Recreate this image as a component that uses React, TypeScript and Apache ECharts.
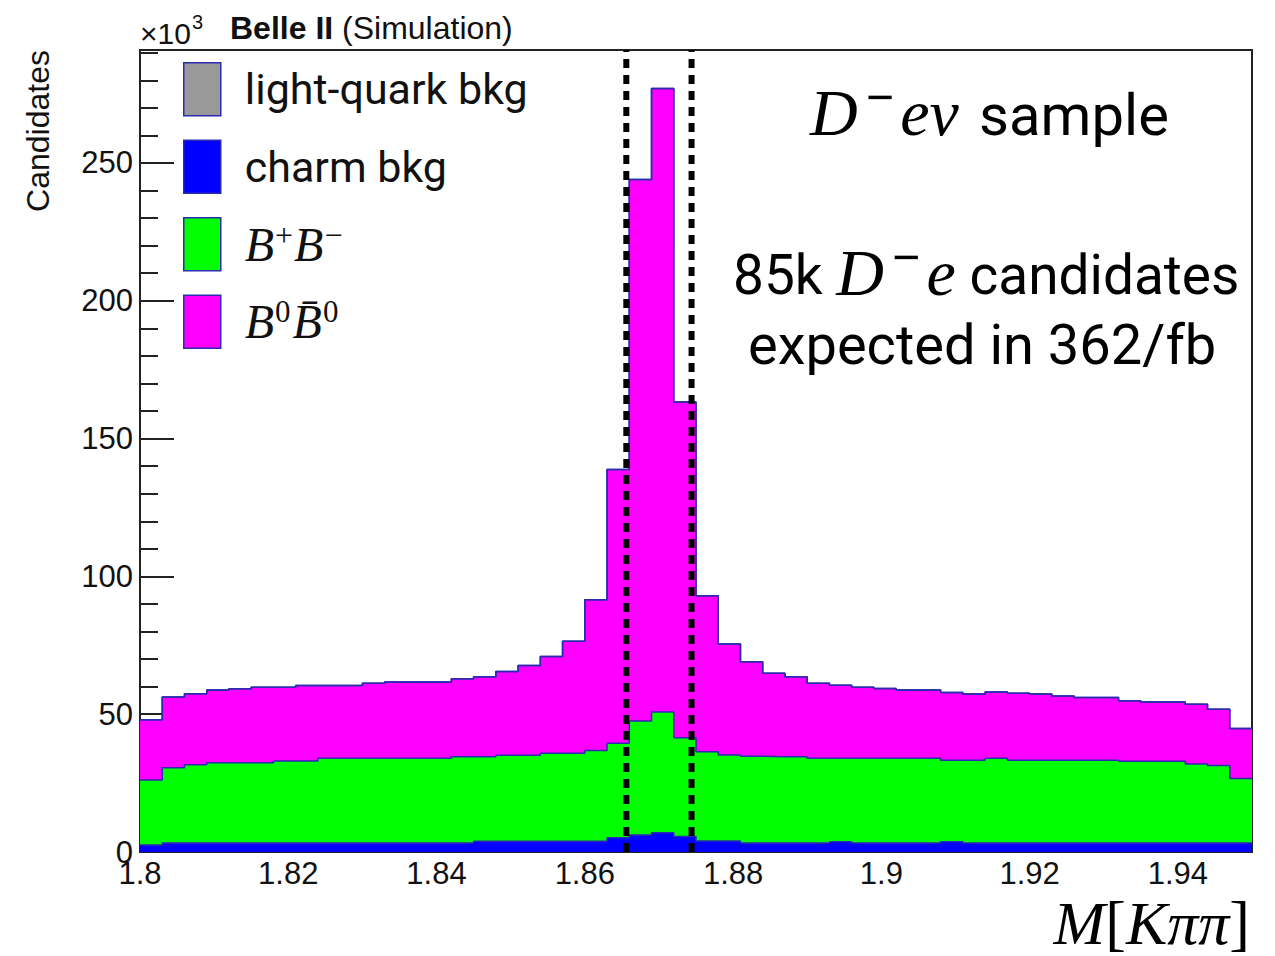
import React, { useEffect, useRef } from "react";
import * as echarts from "echarts";

// ---- binning (50 bins of 3 MeV from 1.80 to 1.95 GeV) ----
const BIN_START = 1.8;
const BIN_WIDTH = 0.003;
const X_MIN = 1.8;
const X_MAX = 1.95;
const Y_MAX = 291; // in units of 10^3 candidates

// ---- per-component bin contents (x10^3 candidates) ----
const charmBkg = [
  2.5, 3.3, 3.3, 3.3, 3.3, 3.3, 3.3, 3.3, 3.3, 3.3,
  3.3, 3.3, 3.3, 3.3, 3.3, 3.9, 3.9, 3.9, 3.9, 3.9,
  3.9, 5.2, 6.2, 7.0, 5.6, 4.0, 4.0, 3.3, 3.3, 3.3,
  3.3, 3.7, 3.3, 3.3, 3.3, 3.3, 3.7, 3.3, 3.3, 3.3,
  3.3, 3.3, 3.3, 3.3, 3.3, 3.3, 3.3, 3.3, 3.3, 3.3,
];
const bPlusBMinus = [
  23.6, 27.3, 28.4, 29.1, 29.1, 29.1, 29.7, 29.7, 30.7, 30.7,
  30.7, 30.7, 30.7, 30.7, 31.3, 30.7, 31.2, 31.2, 31.9, 31.9,
  32.9, 34.3, 41.3, 43.8, 35.9, 32.4, 31.2, 31.4, 31.3, 31.3,
  30.7, 30.3, 30.7, 30.7, 30.7, 30.7, 29.6, 30.0, 30.7, 30.0,
  30.0, 30.0, 30.0, 30.0, 29.6, 29.6, 29.6, 28.6, 28.1, 23.4,
];
const b0B0bar = [
  21.9, 25.6, 25.7, 26.4, 26.8, 27.4, 26.8, 27.4, 26.4, 26.4,
  27.2, 27.7, 27.7, 27.7, 28.3, 29.0, 30.4, 32.6, 35.1, 40.7,
  54.7, 99.3, 196.5, 226.2, 121.8, 56.6, 40.3, 34.3, 30.3, 29.0,
  27.2, 26.5, 25.8, 25.3, 24.8, 24.8, 24.6, 24.0, 24.1, 24.3,
  24.0, 23.3, 22.8, 22.8, 22.0, 21.5, 21.5, 21.7, 20.4, 18.1,
];
const lightQuarkBkg = [
  0, 0, 0, 0, 0, 0, 0, 0, 0, 0,
  0, 0, 0, 0, 0, 0, 0, 0, 0, 0,
  0, 0, 0, 0, 0, 0, 0, 0, 0, 0,
  0, 0, 0, 0, 0, 0, 0, 0, 0, 0,
  0, 0, 0, 0, 0, 0, 0, 0, 0, 0,
];

// signal window (dotted lines)
const cutEdges = [1.8656, 1.8744];

const LEGEND_NAMES = ["light-quark bkg", "charm bkg", "B⁺B⁻", "B⁰B̄⁰"];
const LEGEND_RICH: Record<string, string> = {
  "light-quark bkg": "{sf|light-quark bkg}",
  "charm bkg": "{sf|charm bkg}",
  "B⁺B⁻": "{it|B}{sup|+}{it|B}{sup|−}",
  "B⁰B̄⁰": "{it|B}{supd|0}{it|B̄}{supd|0}",
};
const COLORS = {
  light: "#999999",
  charm: "#0000ff",
  bpbm: "#00ff00",
  b0b0: "#ff00ff",
};
const OUTLINE = "#2b2bb0";

const edgeOf = (i: number) => Number((BIN_START + i * BIN_WIDTH).toFixed(4));
const toSteps = (vals: number[]) =>
  vals.map((v, i) => [edgeOf(i), v]).concat([[X_MAX, vals[vals.length - 1]]]);
const cumulative = (...layers: number[][]) =>
  layers[0].map((_, i) => Number(layers.reduce((s, l) => s + l[i], 0).toFixed(2)));

const histSeries = (name: string, vals: number[], color: string) => ({
  name,
  type: "line",
  step: "end",
  data: toSteps(vals),
  symbol: "none",
  showSymbol: false,
  silent: true,
  lineStyle: { color: OUTLINE, width: 1.5 },
  areaStyle: { color, opacity: 1 },
  z: 2,
});

export default function App() {
  const ref = useRef<HTMLDivElement>(null);
  useEffect(() => {
    if (!ref.current) return;
    const chart = echarts.init(ref.current, null, { renderer: "svg" });

    // THStack-like: draw cumulative histograms, largest first
    const cumCharm = cumulative(charmBkg);
    const cumBpBm = cumulative(charmBkg, bPlusBMinus);
    const cumB0 = cumulative(charmBkg, bPlusBMinus, b0B0bar);
    const cumAll = cumulative(charmBkg, bPlusBMinus, b0B0bar, lightQuarkBkg);

    const sansRoot = "'Liberation Sans', Arial, Helvetica, sans-serif";
    const serif = "'Liberation Serif', 'Times New Roman', serif";
    const pres = "Roboto, 'Noto Sans', sans-serif";

    // rich tokens are centred on the line; bottom padding lifts a token by half its size
    const itBig = { fontFamily: serif, fontStyle: "italic", fontSize: 66, lineHeight: 66, fill: "#000" };
    const supMinus = { fontFamily: serif, fontWeight: "bold", fontSize: 50, lineHeight: 19, padding: [0, 6, 30, 8], fill: "#000" };

    const option: any = {
      animation: false,
      backgroundColor: "#ffffff",
      grid: { left: 140, top: 50, right: 23, bottom: 104, show: true, borderColor: "#222", borderWidth: 2, backgroundColor: "transparent" },
      xAxis: [
        {
          type: "value", min: X_MIN, max: X_MAX, interval: 0.02, position: "bottom",
          axisLine: { show: true, onZero: false, lineStyle: { color: "#222", width: 2 } },
          axisTick: { show: true, inside: true, length: 25, lineStyle: { color: "#222", width: 2 } },
          axisLabel: { fontSize: 31, fontFamily: sansRoot, color: "#111", margin: 6, showMaxLabel: false },
          splitLine: { show: false },
        },
        {
          type: "value", min: X_MIN, max: X_MAX, interval: 0.005, position: "bottom",
          axisLine: { show: false, onZero: false },
          axisTick: { show: true, inside: true, length: 12, lineStyle: { color: "#222", width: 2 } },
          axisLabel: { show: false },
          splitLine: { show: false },
        },
      ],
      yAxis: [
        {
          type: "value", min: 0, max: Y_MAX, interval: 50, position: "left",
          axisLine: { show: true, onZero: false, lineStyle: { color: "#222", width: 2 } },
          axisTick: { show: true, inside: true, length: 34, lineStyle: { color: "#222", width: 2 } },
          axisLabel: { fontSize: 31, fontFamily: sansRoot, color: "#111", margin: 7, showMaxLabel: false },
          splitLine: { show: false },
        },
        {
          type: "value", min: 0, max: Y_MAX, interval: 10, position: "left", offset: 0,
          axisLine: { show: false, onZero: false },
          axisTick: { show: true, inside: true, length: 18, lineStyle: { color: "#222", width: 2 } },
          axisLabel: { show: false },
          splitLine: { show: false },
        },
      ],
      legend: {
        orient: "vertical",
        left: 183,
        top: 62,
        padding: 0,
        itemWidth: 37,
        itemHeight: 53,
        itemGap: 23,
        icon: "rect",
        selectedMode: false,
        data: [
          { name: LEGEND_NAMES[0], itemStyle: { color: COLORS.light, borderColor: OUTLINE, borderWidth: 1.5 } },
          { name: LEGEND_NAMES[1], itemStyle: { color: COLORS.charm, borderColor: OUTLINE, borderWidth: 1.5 } },
          { name: LEGEND_NAMES[2], itemStyle: { color: COLORS.bpbm, borderColor: OUTLINE, borderWidth: 1.5 } },
          { name: LEGEND_NAMES[3], itemStyle: { color: COLORS.b0b0, borderColor: OUTLINE, borderWidth: 1.5 } },
        ],
        formatter: (name: string) => LEGEND_RICH[name] || name,
        textStyle: {
          color: "#111",
          padding: [0, 0, 0, 19],
          rich: {
            sf: { fontFamily: pres, fontSize: 43, color: "#111" },
            it: { fontFamily: serif, fontStyle: "italic", fontSize: 48, lineHeight: 48, color: "#111" },
            sup: { fontFamily: serif, fontSize: 32, lineHeight: 28, padding: [0, 1, 18, 1], color: "#111" },
            supd: { fontFamily: serif, fontSize: 31, lineHeight: 26, padding: [0, 2, 20, 1], color: "#111" },
          },
        },
      },
      series: [
        histSeries(LEGEND_NAMES[0], cumAll, COLORS.light),
        histSeries(LEGEND_NAMES[3], cumB0, COLORS.b0b0),
        histSeries(LEGEND_NAMES[2], cumBpBm, COLORS.bpbm),
        histSeries(LEGEND_NAMES[1], cumCharm, COLORS.charm),
        ...cutEdges.map((c, i) => ({
          name: i === 0 ? "window low" : "window high",
          type: "line",
          data: [[c, 0], [c, Y_MAX]],
          symbol: "none",
          silent: true,
          lineStyle: { color: "#000", width: 6, type: [9, 7] },
          z: 5,
        })),
      ],
      graphic: [
        {
          type: "text", x: 140, y: 33,
          style: {
            text: "{n|×10}{s|3}",
            align: "left", verticalAlign: "middle",
            rich: {
              n: { fontFamily: sansRoot, fontSize: 30, lineHeight: 30, fill: "#111" },
              s: { fontFamily: sansRoot, fontSize: 20, lineHeight: 8, padding: [0, 0, 22, 1], fill: "#111" },
            },
          },
        },
        {
          type: "text", x: 230, y: 28,
          style: {
            text: "{b|Belle II} {n|(Simulation)}",
            align: "left", verticalAlign: "middle",
            rich: {
              b: { fontFamily: sansRoot, fontWeight: "bold", fontSize: 32, fill: "#111" },
              n: { fontFamily: sansRoot, fontSize: 32, fill: "#111" },
            },
            font: `32px ${sansRoot}`,
          },
        },
        {
          type: "text", x: 38, y: 50, rotation: Math.PI / 2,
          style: { text: "Candidates", font: `32px ${sansRoot}`, fill: "#111", align: "right", verticalAlign: "middle" },
        },
        {
          type: "text", x: 810, y: 112,
          style: {
            text: "{it|D}{sup|−}{it|eν}{sf| sample}",
            align: "left", verticalAlign: "middle",
            rich: {
              it: itBig,
              sup: supMinus,
              sf: { fontFamily: pres, fontSize: 58, lineHeight: 50, padding: [6, 0, 0, 6], fill: "#000" },
            },
          },
        },
        {
          type: "text", x: 733, y: 272,
          style: {
            text: "{sf|85k }{it|D}{sup|−}{it|e}{sf| candidates}",
            align: "left", verticalAlign: "middle",
            rich: {
              it: itBig,
              sup: supMinus,
              sf: { fontFamily: pres, fontSize: 55, lineHeight: 50, padding: [6, 0, 0, 0], fill: "#000" },
            },
          },
        },
        {
          type: "text", x: 748, y: 345,
          style: { text: "expected in 362/fb", font: `56px ${pres}`, fill: "#000", align: "left", verticalAlign: "middle" },
        },
        {
          type: "text", x: 1250, y: 923,
          style: {
            text: "{it|M}{up|[}{it|Kππ}{up|]}",
            align: "right", verticalAlign: "middle",
            rich: {
              it: { fontFamily: serif, fontStyle: "italic", fontSize: 62, lineHeight: 50, fill: "#000" },
              up: { fontFamily: serif, fontSize: 62, lineHeight: 50, fill: "#000" },
            },
          },
        },
      ],
    };
    chart.setOption(option);
    return () => chart.dispose();
  }, []);

  return (
    <div
      ref={ref}
      style={{ position: "absolute", left: 0, top: 0, width: 1275, height: 956, background: "#fff" }}
    />
  );
}
